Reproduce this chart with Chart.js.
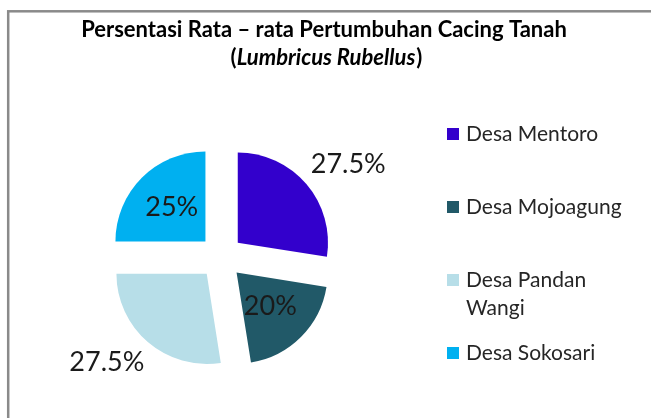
<!DOCTYPE html>
<html>
<head>
<meta charset="utf-8">
<script src="https://cdn.jsdelivr.net/npm/chart.js@4"></script>
<style>
  html, body { margin: 0; padding: 0; background: #fff; }
  #wrap { position: relative; width: 651px; height: 418px; }
</style>
</head>
<body>
<div id="wrap"><canvas id="pieChart" width="651" height="418"></canvas></div>
<script>
// data
const titleLine = 'Persentasi Rata – rata Pertumbuhan Cacing Tanah';
const speciesName = 'Lumbricus Rubellus';
const villages = ['Desa Mentoro', 'Desa Mojoagung', 'Desa Pandan Wangi', 'Desa Sokosari'];
const growthPct = [27.5, 20, 27.5, 25];
const sliceColors = ['#3300CC', '#215968', '#B7DEE8', '#00B0F0'];
// which labels sit outside the slice (Excel "best fit")
const labelOutside = [true, false, true, false];

const FONT = 'Lato, "Noto Sans", sans-serif';

// grey chart-area border, only left and top edges are visible
const framePlugin = {
    id: 'frame',
    beforeDraw(chart) {
        const ctx = chart.ctx;
        ctx.save();
        ctx.strokeStyle = '#8a8a8a';
        ctx.lineWidth = 2.5;
        ctx.strokeRect(8.2, 11.3, 700, 500);
        ctx.restore();
    }
};

// two line title, second line partly italic
const titlePlugin = {
    id: 'twoLineTitle',
    afterDraw(chart) {
        const ctx = chart.ctx;
        ctx.save();
        ctx.fillStyle = '#000';
        ctx.textBaseline = 'middle';
        ctx.textAlign = 'center';
        ctx.font = 'bold 22px ' + FONT;
        ctx.fillText(titleLine, 324, 30);

        const bold = 'bold 22px ' + FONT;
        const boldItalic = 'italic bold 22px ' + FONT;
        ctx.font = bold;
        const wOpen = ctx.measureText('(').width;
        const wClose = ctx.measureText(')').width;
        ctx.font = boldItalic;
        const wName = ctx.measureText(speciesName).width;
        let x = 326 - (wOpen + wName + wClose) / 2;
        ctx.textAlign = 'left';
        ctx.font = bold;
        ctx.fillText('(', x, 58);
        x += wOpen;
        ctx.font = boldItalic;
        ctx.fillText(speciesName, x, 58);
        x += wName + 1;
        ctx.font = bold;
        ctx.fillText(')', x, 58);
        ctx.restore();
    }
};

// percentage labels: inside ones centred on the bisector,
// outside ones pushed off the rim towards their quadrant
const sliceLabelPlugin = {
    id: 'sliceLabels',
    afterDatasetsDraw(chart) {
        const ctx = chart.ctx;
        const meta = chart.getDatasetMeta(0);
        ctx.save();
        ctx.font = '27px ' + FONT;
        ctx.fillStyle = '#1a1a1a';
        ctx.textAlign = 'center';
        ctx.textBaseline = 'middle';
        meta.data.forEach((arc, i) => {
            const p = arc.getProps(['x', 'y', 'startAngle', 'endAngle', 'outerRadius'], true);
            const mid = (p.startAngle + p.endAngle) / 2;
            const shift = (arc.options.offset || 0) / 4;
            const txt = growthPct[i] + '%';
            const cos = Math.cos(mid), sin = Math.sin(mid);
            let lx, ly;
            if (labelOutside[i]) {
                const d = shift + p.outerRadius + 6;
                const w = ctx.measureText(txt).width;
                lx = p.x + cos * d + Math.sign(cos) * w / 2;
                ly = p.y + sin * d + Math.sign(sin) * 16;
            } else {
                const d = shift + p.outerRadius * 0.53;
                lx = p.x + cos * d;
                ly = p.y + sin * d;
            }
            ctx.fillText(txt, lx, ly);
        });
        ctx.restore();
    }
};

// legend on the right, long names wrap
function wrapText(ctx, text, maxW) {
    const words = text.split(' ');
    const lines = [];
    let cur = '';
    words.forEach(w => {
        const test = cur ? cur + ' ' + w : w;
        if (ctx.measureText(test).width > maxW && cur) {
            lines.push(cur);
            cur = w;
        } else {
            cur = test;
        }
    });
    if (cur) lines.push(cur);
    return lines;
}

const sideLegendPlugin = {
    id: 'sideLegend',
    afterDraw(chart) {
        const ctx = chart.ctx;
        const labels = chart.data.labels;
        const colors = chart.data.datasets[0].backgroundColor;
        ctx.save();
        ctx.font = '21px ' + FONT;
        ctx.textBaseline = 'middle';
        ctx.textAlign = 'left';
        labels.forEach((lbl, i) => {
            const cy = 134 + i * 73;
            ctx.fillStyle = colors[i];
            ctx.fillRect(447, cy - 6, 12, 12);
            ctx.fillStyle = '#262626';
            wrapText(ctx, lbl, 168).forEach((line, j) => {
                ctx.fillText(line, 466, cy + j * 28);
            });
        });
        ctx.restore();
    }
};

new Chart(document.getElementById('pieChart'), {
    type: 'pie',
    data: {
        labels: villages,
        datasets: [{
            data: growthPct,
            backgroundColor: sliceColors,
            borderWidth: 0,
            offset: 88,
            hoverOffset: 88
        }]
    },
    options: {
        responsive: false,
        animation: false,
        events: [],
        layout: { padding: { left: 87, right: 296, top: 123, bottom: 27 } },
        plugins: {
            legend: { display: false },
            title: { display: false },
            tooltip: { enabled: false }
        }
    },
    plugins: [framePlugin, sliceLabelPlugin, titlePlugin, sideLegendPlugin]
});
</script>
</body>
</html>
